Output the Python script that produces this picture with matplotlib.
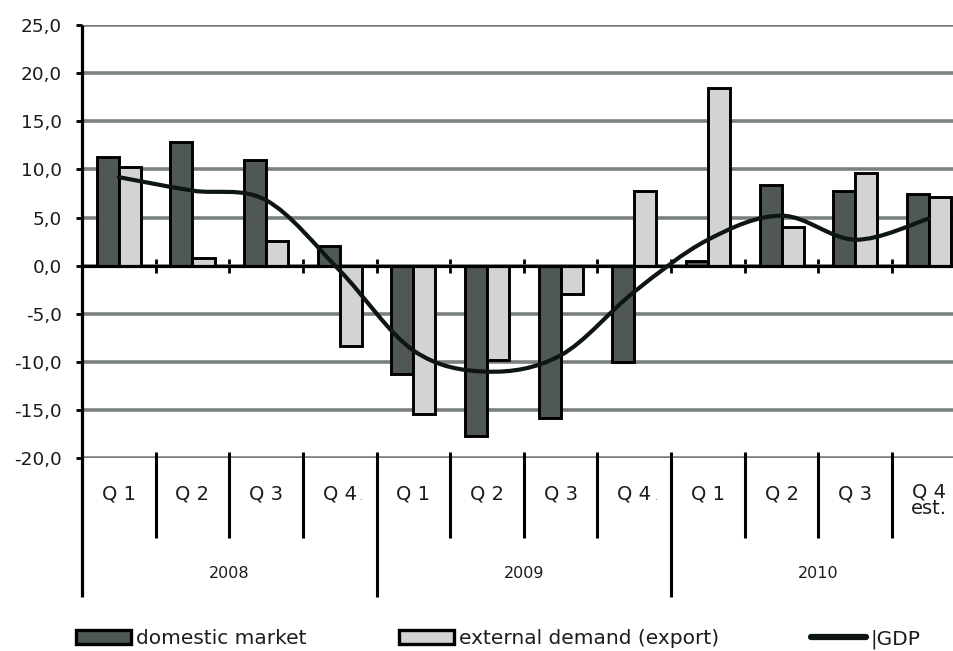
import numpy as np
import matplotlib
matplotlib.use("Agg")
import matplotlib.pyplot as plt
import matplotlib.transforms as mtransforms
from matplotlib.path import Path
from matplotlib.patches import PathPatch, Patch
from matplotlib.lines import Line2D
from matplotlib.ticker import FuncFormatter

# ---- data -------------------------------------------------------------
quarters = ["Q 1", "Q 2", "Q 3", "Q 4.", "Q 1", "Q 2", "Q 3", "Q 4.",
            "Q 1", "Q 2", "Q 3", "Q 4\nest."]
years = ["2008", "2009", "2010"]
domestic = [11.3, 12.9, 11.0, 2.1, -11.2, -17.7, -15.8, -10.0,
            0.5, 8.4, 7.8, 7.5]
external = [10.3, 0.8, 2.6, -8.3, -15.4, -9.8, -2.9, 7.8,
            18.5, 4.0, 9.6, 7.1]
gdp = [9.2, 7.8, 6.8, -0.5, -8.8, -11.0, -9.3, -2.7,
       2.7, 5.2, 2.7, 4.9]
y_ticks = [-20, -15, -10, -5, 0, 5, 10, 15, 20, 25]
series_labels = ["domestic market", "external demand (export)", "|GDP"]

# ---- style ------------------------------------------------------------
DARK = "#4f5757"
LIGHT = "#d3d3d3"
GRID = "#7b8181"
INK = "#1c1c1c"
LINE = "#0d1614"
FONT = "DejaVu Sans"

W, H = 954, 651
fig = plt.figure(figsize=(W / 100, H / 100), dpi=100)
fig.patch.set_facecolor("white")

# axes spans 12 quarters; its right end runs a little past the canvas
left_px, right_px, top_px, bottom_px = 82, 965.7, 25, 458.3
ax = fig.add_axes([left_px / W, 1 - bottom_px / H,
                   (right_px - left_px) / W, (bottom_px - top_px) / H])

n = len(quarters)
x = np.arange(n)
bw = 0.3

ax.bar(x - bw / 2, domestic, width=bw, color=DARK, edgecolor="black",
       linewidth=2.1, zorder=2)
ax.bar(x + bw / 2, external, width=bw, color=LIGHT, edgecolor="black",
       linewidth=2.1, zorder=2)


def smooth_path(xs, ys):
    """Piecewise cubic Bezier through the points (Catmull-Rom tangents)."""
    pts = np.column_stack([xs, ys]).astype(float)
    m = len(pts)
    verts = [pts[0]]
    codes = [Path.MOVETO]
    for i in range(m - 1):
        p0 = pts[max(i - 1, 0)]
        p1 = pts[i]
        p2 = pts[i + 1]
        p3 = pts[min(i + 2, m - 1)]
        verts += [p1 + (p2 - p0) / 6, p2 - (p3 - p1) / 6, p2]
        codes += [Path.CURVE4] * 3
    return Path(verts, codes)


ax.add_patch(PathPatch(smooth_path(x, gdp), facecolor="none", edgecolor=LINE,
                       linewidth=3.0, capstyle="round", zorder=4))

ax.set_xlim(-0.5, n - 0.5)
ax.set_ylim(y_ticks[0], y_ticks[-1])
ax.set_yticks(y_ticks)
ax.yaxis.set_major_formatter(
    FuncFormatter(lambda v, _: f"{v:.1f}".replace(".", ",")))
ax.yaxis.grid(True, color=GRID, linewidth=2.6)
ax.set_axisbelow(True)

for s in ("top", "right", "left"):
    ax.spines[s].set_visible(False)
ax.spines["bottom"].set_position(("data", 0))
ax.spines["bottom"].set_linewidth(2.3)
ax.spines["bottom"].set_color("black")
ax.spines["bottom"].set_zorder(3)

ax.set_xticks(x[:-1] + 0.5)
ax.tick_params(axis="x", direction="inout", length=10, width=2.0,
               colors="black", labelbottom=False)
ax.tick_params(axis="y", direction="out", length=4.5, width=2.0,
               colors="black", pad=10, labelsize=13.3, labelcolor=INK)
for lab in ax.get_yticklabels():
    lab.set_family(FONT)

# category axis drawn below the plot area
blend = mtransforms.blended_transform_factory(ax.transData, ax.transAxes)
y_top = 0.0152
y_short = -0.1846
y_long = -0.3194
ax.plot([-0.5, -0.5], [1.0, y_long], color="black", lw=2.3,
        transform=blend, clip_on=False, zorder=5, solid_capstyle="butt")
for b in np.arange(0.5, n - 0.5, 1.0):
    bottom = y_long if (b + 0.5) % 4 == 0 else y_short
    ax.plot([b, b], [y_top, bottom], color="black", lw=2.2,
            transform=blend, clip_on=False, zorder=5, solid_capstyle="butt")

for i, q in enumerate(quarters):
    if "\n" in q:
        ax.text(i, -0.097, q, transform=blend, ha="center", va="center",
                family=FONT, fontsize=14, color=INK, linespacing=0.8)
    elif q.endswith("."):
        t = ax.text(i, -0.083, q[:-1], transform=blend, ha="center",
                    va="center", family=FONT, fontsize=14, color=INK)
        # tiny trailing dot after the quarter number
        ax.annotate(".", xy=(1.0, 0.08), xycoords=t, xytext=(2, 0),
                    textcoords="offset points", ha="left", va="bottom",
                    family=FONT, fontsize=6, color=INK)
    else:
        ax.text(i, -0.083, q, transform=blend, ha="center", va="center",
                family=FONT, fontsize=14, color=INK)

for j, yr in enumerate(years):
    ax.text(4 * j + 1.5, -0.2654, yr, transform=blend, ha="center",
            va="center", family=FONT, fontsize=11.5, color=INK)

# legend
handles = [
    Patch(facecolor=DARK, edgecolor="black", linewidth=2.4),
    Patch(facecolor=LIGHT, edgecolor="black", linewidth=2.4),
    Line2D([], [], color=LINE, linewidth=4.5, solid_capstyle="round"),
]
fs = 14.5
fs_px = fs * 100 / 72
fig.legend(handles, series_labels, loc="center left",
           bbox_to_anchor=(76 / W, 1 - 639 / H), ncol=3, frameon=False,
           prop={"family": FONT, "size": fs},
           labelcolor=INK, handlelength=55 / fs_px, handleheight=0.65,
           handletextpad=0.25, columnspacing=92 / fs_px,
           borderpad=0, borderaxespad=0)

fig.savefig("out.png", dpi=100, facecolor="white")
